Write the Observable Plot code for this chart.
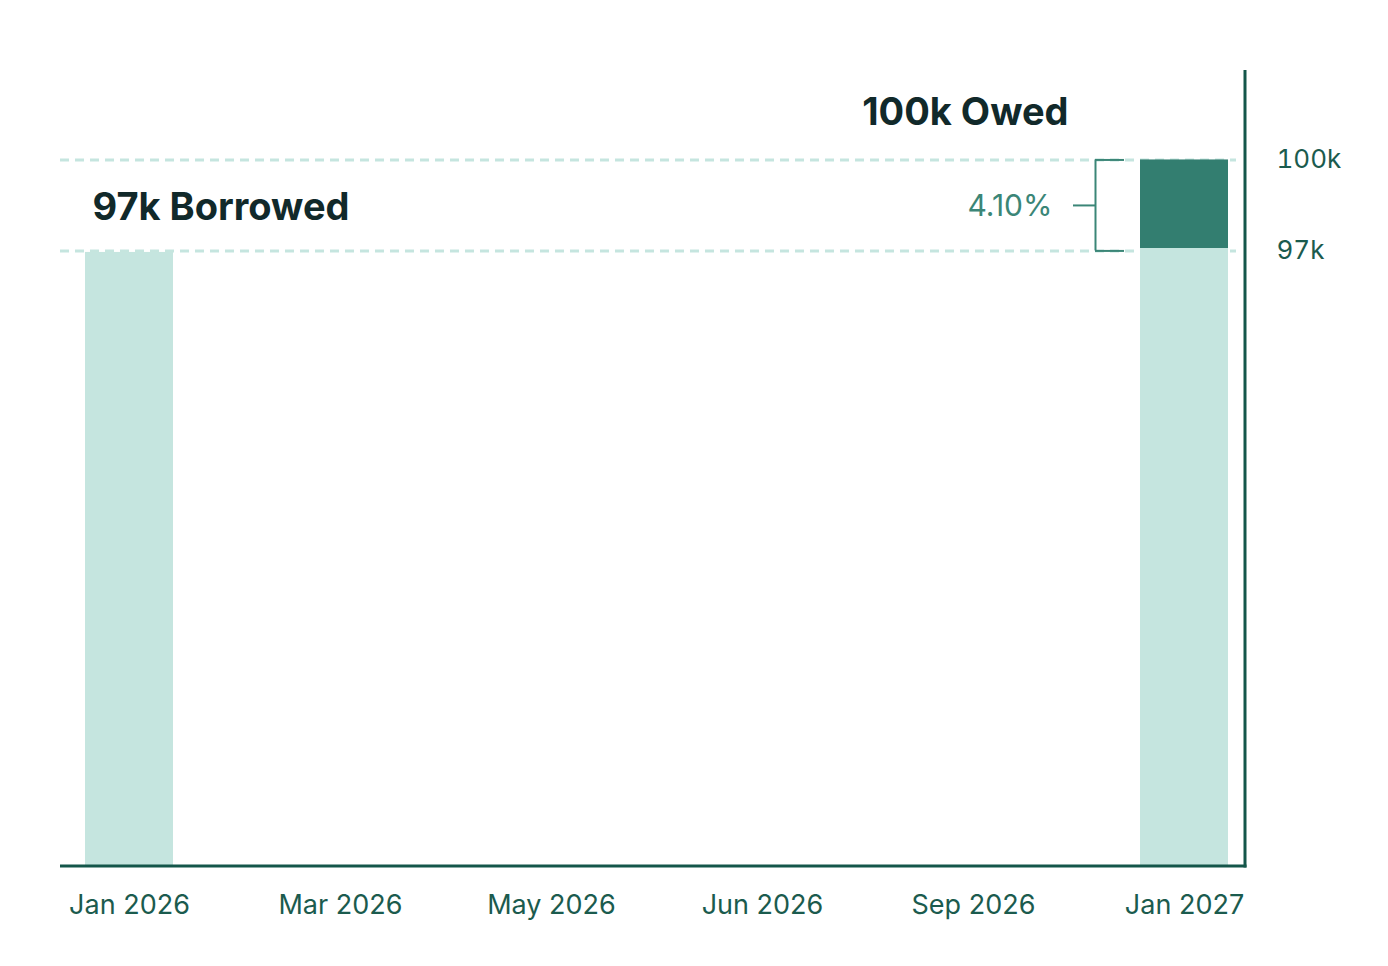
<!DOCTYPE html>
<html>
<head>
<meta charset="utf-8">
<script src="https://cdn.jsdelivr.net/npm/d3@7"></script>
<script src="https://cdn.jsdelivr.net/npm/@observablehq/plot@0.6"></script>
<style>
  html, body { margin: 0; padding: 0; background: #ffffff; }
  #chart svg { display: block; }
</style>
</head>
<body>
<div id="chart"></div>
<script>
// ---- data ----
const periods = ["Jan 2026", "Mar 2026", "May 2026", "Jun 2026", "Sep 2026", "Jan 2027"];
const barPeriods = ["Jan 2026", "Jan 2027"];
const principalValues = [96950, 97080];
const interestFrom = [97080];
const interestTo = [100000];
const borrowed = 97000;
const owed = 100000;
const yTicks = [97000, 100000];
const yTickLabels = ["97k", "100k"];
const borrowedLabel = "97k Borrowed";
const owedLabel = "100k Owed";
const rateLabel = "4.10%";

// ---- styles ----
const LIGHT = "#c5e5df";
const DARK = "#337e70";
const AXIS = "#14564a";
const TITLE = "#11292a";
const ACCENT = "#3b8677";
const TICK = "#1b5b4e";

const principal = barPeriods.map((p, i) => ({period: p, value: principalValues[i]}));
const interest = [{period: "Jan 2027", from: interestFrom[0], to: interestTo[0]}];
const mid = (borrowed + owed) / 2;

const axisLines = (index, scales, values, dims) => {
  const {width, height, marginLeft, marginRight, marginTop, marginBottom} = dims;
  const g = d3.create("svg:g").attr("stroke", AXIS).attr("stroke-width", 3).attr("fill", "none");
  const xr = width - marginRight;
  const yb = height - marginBottom;
  g.append("line").attr("x1", marginLeft).attr("x2", xr + 1.5).attr("y1", yb).attr("y2", yb);
  g.append("line").attr("x1", xr).attr("x2", xr).attr("y1", marginTop).attr("y2", yb + 1.5);
  return g.node();
};

const chart = Plot.plot({
  width: 1388,
  height: 966,
  marginLeft: 60,
  marginRight: 143,
  marginTop: 70,
  marginBottom: 100,
  style: {fontFamily: "Inter, 'Noto Sans', sans-serif", fontSize: "26px", background: "#ffffff"},
  x: {domain: periods, range: [84, 1228], paddingInner: 0.584, paddingOuter: 0},
  y: {domain: [76700, 102950]},
  marks: [
    Plot.ruleY(yTicks, {y: d => d, stroke: LIGHT, strokeWidth: 3, strokeDasharray: "9,6", insetRight: 9}),
    Plot.barY(principal, {x: "period", y1: 0, y2: "value", fill: LIGHT, clip: true}),
    Plot.barY(interest, {x: "period", y1: "from", y2: "to", fill: DARK}),
    // bracket
    Plot.ruleX(interest, {x: "period", y1: borrowed, y2: owed, dx: -89, stroke: ACCENT, strokeWidth: 2}),
    Plot.tickY(interest, {x: "period", y: () => owed, dx: -45, insetRight: 59, stroke: ACCENT, strokeWidth: 2}),
    Plot.tickY(interest, {x: "period", y: () => borrowed, dx: -45, insetRight: 59, stroke: ACCENT, strokeWidth: 2}),
    Plot.tickY(interest, {x: "period", y: () => mid, dx: -67, insetRight: 66, stroke: ACCENT, strokeWidth: 2}),
    Plot.text([rateLabel], {x: () => "Jan 2027", y: () => mid, text: d => d, textAnchor: "end", dx: -132, dy: 1, fill: ACCENT, fontSize: 30}),
    // titles
    Plot.text([borrowedLabel], {frameAnchor: "left", y: () => mid, text: d => d, textAnchor: "start", dx: 32, dy: 2, fill: TITLE, fontSize: 38, fontWeight: 700, letterSpacing: "1px"}),
    Plot.text([owedLabel], {x: () => "Jan 2027", y: () => owed, text: d => d, textAnchor: "end", dx: -116, dy: -47, fill: TITLE, fontSize: 38, fontWeight: 700, letterSpacing: "0.9px"}),
    // axes
    Plot.axisX({tickSize: 0, tickPadding: 28, color: TICK, fontSize: 27, label: null}),
    Plot.axisY({anchor: "right", ticks: yTicks, tickFormat: (d) => yTickLabels[yTicks.indexOf(d)], tickSize: 0, tickPadding: 31, color: TICK, fontSize: 26, label: null}),
    axisLines
  ]
});

document.getElementById("chart").appendChild(chart);
</script>
</body>
</html>
